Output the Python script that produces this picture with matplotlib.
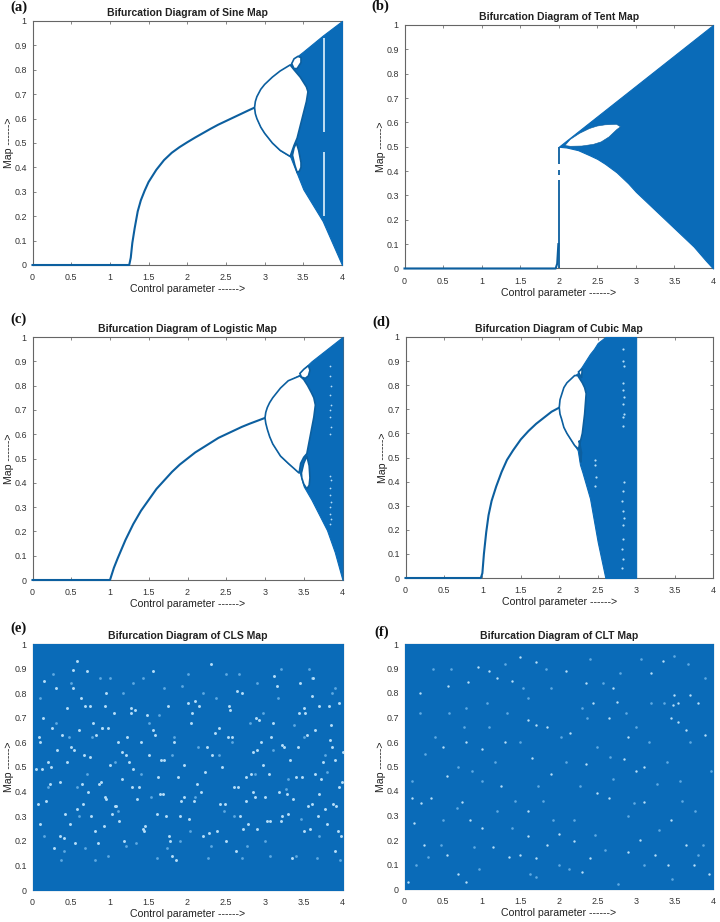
#!/usr/bin/env python3
"""Six bifurcation diagrams, values read off the published figure."""
import matplotlib
matplotlib.use("Agg")
import matplotlib.pyplot as plt

W, H = 720, 922
BLUE = "#0a6bb8"
LINE = "#0c5f9f"
SPECK = "#b5def8"
FAINT = "#5ea9e2"

XTICKS = [0, 0.5, 1, 1.5, 2, 2.5, 3, 3.5, 4]
YTICKS = [0, 0.1, 0.2, 0.3, 0.4, 0.5, 0.6, 0.7, 0.8, 0.9, 1]
XLABEL = "Control parameter ------>"
YLABEL = "Map ------>"

# ---------- (a) sine ----------
a_stable_x = [0, 1.25, 1.27, 1.29, 1.32, 1.36, 1.4, 1.45, 1.5, 1.6, 1.7, 1.8, 1.9, 2, 2.1, 2.2, 2.3, 2.4, 2.5, 2.6,
              2.7, 2.8, 2.87]
a_stable_y = [0, 0, 0.03, 0.09, 0.15, 0.22, 0.265, 0.305, 0.34, 0.39, 0.43, 0.46, 0.483, 0.503, 0.522, 0.54, 0.558,
              0.575, 0.59, 0.605, 0.62, 0.635, 0.645]
a_env_x = [2.87, 2.88, 2.9, 2.95, 3, 3.05, 3.1, 3.2, 3.33, 3.38, 3.5, 3.75, 4]
a_env_top = [0.645, 0.67, 0.69, 0.72, 0.74, 0.755, 0.77, 0.795, 0.82, 0.845, 0.875, 0.94, 1]
a_env_bot = [0.645, 0.62, 0.6, 0.565, 0.54, 0.52, 0.5, 0.47, 0.445, 0.405, 0.31, 0.18, 0]
a_holes = [
    ([2.87, 2.88, 2.9, 2.95, 3, 3.05, 3.1, 3.2, 3.33, 3.38, 3.42, 3.46, 3.5, 3.54, 3.56, 3.54, 3.5, 3.46, 3.42, 3.38,
      3.33, 3.2, 3.1, 3.05, 3, 2.95, 2.9, 2.88],
     [0.645, 0.67, 0.69, 0.72, 0.74, 0.755, 0.77, 0.795, 0.82, 0.80, 0.785, 0.77, 0.75, 0.73, 0.71, 0.67, 0.62, 0.57,
      0.52, 0.49, 0.445, 0.47, 0.5, 0.52, 0.54, 0.565, 0.6, 0.62]),
    ([3.36, 3.38, 3.41, 3.44, 3.47, 3.47, 3.45, 3.42, 3.39, 3.36],
     [0.45, 0.48, 0.50, 0.47, 0.42, 0.40, 0.385, 0.38, 0.41, 0.45]),
    ([3.35, 3.38, 3.43, 3.47, 3.47, 3.42, 3.38, 3.35],
     [0.825, 0.845, 0.855, 0.85, 0.83, 0.805, 0.805, 0.825]),
]
a_stripe_x = [3.77, 3.77]
a_stripe_top = [0.93, 0.465]
a_stripe_bot = [0.545, 0.2]

# ---------- (b) tent ----------
b_zero_x = [0, 1.96, 1.98, 1.995]
b_zero_y = [0, 0, 0.02, 0.1]
b_rise_x = [2, 2, 2]
b_rise_bot = [0, 0.385, 0.43]
b_rise_top = [0.363, 0.405, 0.5]
b_env_x = [2, 2.1, 2.25, 2.4, 2.5, 2.6, 2.75, 2.9, 3, 3.1, 3.25, 3.4, 3.5, 3.6, 3.75, 3.9, 4]
b_env_top = [0.5, 0.525, 0.5625, 0.6, 0.625, 0.65, 0.6875, 0.725, 0.75, 0.775, 0.8125, 0.85, 0.875, 0.9, 0.9375,
             0.975, 1]
b_env_bot = [0.5, 0.497, 0.486, 0.465, 0.45, 0.43, 0.395, 0.35, 0.315, 0.285, 0.24, 0.195, 0.165, 0.135, 0.09, 0.035, 0]
b_holes = [
    ([2.08, 2.15, 2.27, 2.4, 2.5, 2.6, 2.75, 2.8, 2.75, 2.65, 2.55, 2.45, 2.3, 2.15, 2.08],
     [0.505, 0.53, 0.555, 0.575, 0.585, 0.59, 0.592, 0.582, 0.57, 0.54, 0.52, 0.51, 0.503, 0.502, 0.505]),
]

# ---------- (c) logistic ----------
c_stable_x = [0, 1, 1.05, 1.1, 1.2, 1.3, 1.4, 1.5, 1.6, 1.7, 1.8, 1.9, 2, 2.1, 2.2, 2.3, 2.4, 2.5, 2.6, 2.7, 2.8, 2.9, 3]
c_stable_y = [0, 0, 0.05, 0.09, 0.165, 0.23, 0.285, 0.33, 0.375, 0.41, 0.445, 0.475, 0.5, 0.525, 0.545, 0.565, 0.585,
              0.6, 0.615, 0.63, 0.643, 0.655, 0.667]
c_env_x = [3, 3.01, 3.03, 3.06, 3.1, 3.15, 3.2, 3.3, 3.45, 3.5, 3.6, 3.8, 3.9, 4]
c_env_top = [0.667, 0.69, 0.71, 0.73, 0.75, 0.77, 0.79, 0.82, 0.845, 0.87, 0.9, 0.95, 0.975, 1]
c_env_bot = [0.667, 0.645, 0.62, 0.59, 0.56, 0.535, 0.51, 0.48, 0.44, 0.385, 0.33, 0.205, 0.115, 0]
c_holes = [
    ([3, 3.01, 3.03, 3.06, 3.1, 3.15, 3.2, 3.3, 3.45, 3.5, 3.55, 3.6, 3.63, 3.65, 3.63, 3.6, 3.57, 3.54, 3.5, 3.46,
      3.44, 3.3, 3.2, 3.15, 3.1, 3.06, 3.03, 3.01],
     [0.667, 0.69, 0.71, 0.73, 0.75, 0.77, 0.79, 0.82, 0.84, 0.825, 0.8, 0.77, 0.75, 0.72, 0.67, 0.62, 0.57, 0.52,
      0.505, 0.48, 0.44, 0.48, 0.51, 0.535, 0.56, 0.59, 0.62, 0.645]),
    ([3.47, 3.5, 3.54, 3.57, 3.58, 3.57, 3.54, 3.5, 3.475, 3.47],
     [0.44, 0.48, 0.51, 0.47, 0.42, 0.39, 0.375, 0.395, 0.42, 0.44]),
    ([3.45, 3.5, 3.56, 3.58, 3.56, 3.52, 3.47, 3.45],
     [0.85, 0.867, 0.882, 0.863, 0.84, 0.83, 0.835, 0.85]),
]
c_specks_x = [3.84, 3.84, 3.85, 3.84, 3.85, 3.84, 3.84, 3.85, 3.84, 3.84, 3.85, 3.84, 3.84, 3.85, 3.84, 3.84, 3.85, 3.84]
c_specks_y = [0.88, 0.84, 0.8, 0.76, 0.72, 0.7, 0.67, 0.63, 0.6, 0.43, 0.41, 0.38, 0.35, 0.32, 0.3, 0.27, 0.25, 0.23]

# ---------- (d) cubic ----------
d_stable_x = [0, 0.98, 1.0, 1.02, 1.05, 1.08, 1.12, 1.18, 1.25, 1.32, 1.4, 1.5, 1.6, 1.7, 1.8, 1.9, 2]
d_stable_y = [0, 0, 0.02, 0.1, 0.19, 0.26, 0.32, 0.38, 0.44, 0.49, 0.53, 0.575, 0.61, 0.64, 0.665, 0.69, 0.707]
d_env_x = [2, 2.01, 2.03, 2.06, 2.1, 2.15, 2.2, 2.24, 2.27, 2.3, 2.4, 2.45, 2.5, 2.6, 3]
d_env_top = [0.707, 0.74, 0.76, 0.79, 0.81, 0.825, 0.84, 0.85, 0.865, 0.88, 0.93, 0.95, 0.975, 1, 1]
d_env_bot = [0.707, 0.68, 0.66, 0.625, 0.6, 0.575, 0.55, 0.53, 0.47, 0.44, 0.33, 0.24, 0.15, 0, 0]
d_holes = [
    ([2, 2.01, 2.03, 2.06, 2.1, 2.15, 2.2, 2.24, 2.3, 2.33, 2.35, 2.33, 2.3, 2.27, 2.25, 2.2, 2.15, 2.1, 2.06, 2.03, 2.01],
     [0.707, 0.74, 0.76, 0.79, 0.81, 0.825, 0.84, 0.84, 0.81, 0.79, 0.765, 0.68, 0.6, 0.56, 0.535, 0.55, 0.575, 0.6,
      0.625, 0.66, 0.68]),
    ([2.26, 2.29, 2.28, 2.26], [0.57, 0.52, 0.48, 0.57]),
    ([2.25, 2.3, 2.29, 2.25], [0.855, 0.87, 0.83, 0.855]),
]
d_specks_x = [2.83, 2.83, 2.84, 2.83, 2.83, 2.84, 2.83, 2.84, 2.83, 2.83, 2.84, 2.83, 2.82, 2.83, 2.84, 2.83, 2.83, 2.82,
              2.83, 2.82, 2.47, 2.47, 2.48, 2.47]
d_specks_y = [0.95, 0.9, 0.88, 0.81, 0.78, 0.75, 0.72, 0.68, 0.67, 0.63, 0.4, 0.36, 0.32, 0.28, 0.25, 0.22, 0.16, 0.12,
              0.08, 0.04, 0.49, 0.47, 0.42, 0.38]

# ---------- (e) CLS ----------
e_specks_x = [0.3, 0.52, 0.58, 0.7, 0.68, 0.74, 0.93, 0.95, 1.27, 1.27, 1.32, 0.08, 0.1, 0.12, 0.05, 0.32, 0.5, 0.54,
              0.74, 0.93, 0.95, 1.1, 1.15, 1.65, 1.68, 1.62, 1.88, 2.15, 2.53, 2.55, 2.6, 2.65, 2.75, 2.85, 2.87, 3.0,
              2.85, 2.9, 3.5, 3.52, 3.7, 3.82, 3.65, 3.7, 3.6, 3.55, 3.2, 3.3, 3.22, 0.4, 0.55, 0.85, 0.92, 1.8, 1.85,
              2.5, 2.9, 3.35, 3.9, 3.98, 4.0, 3.9, 3.95, 3.99, 2.3, 2.0, 0.15, 0.25, 0.45, 0.6, 0.78, 1.05, 1.2, 1.4,
              1.55, 1.75, 2.05, 2.25, 2.4, 2.7, 3.1, 3.25, 3.45, 3.6, 3.85, 0.2, 0.35, 0.62, 0.82, 1.0, 1.22, 1.38,
              1.5, 1.72, 1.95, 2.1, 2.35, 2.45, 2.68, 3.05, 3.15, 3.4, 3.75, 3.88, 0.18, 0.42, 0.65, 0.88, 1.08, 1.3,
              1.45, 1.6, 1.9, 2.2, 2.42, 2.78, 2.95, 3.12, 3.42, 3.58, 3.8, 0.1, 0.28, 0.48, 0.72, 1.02, 1.18, 1.42,
              1.78, 2.08, 2.28, 2.62, 2.82, 3.08, 3.28, 3.48, 3.68, 3.92,
              0.13, 0.22, 0.38, 0.44, 0.57, 0.66, 0.76, 0.86, 0.98, 1.12, 1.25, 1.35, 1.48, 1.58, 1.7, 1.82, 1.92, 2.02,
              2.12, 2.22, 2.32, 2.48, 2.58, 2.72, 2.88, 2.98, 3.02, 3.18, 3.32, 3.44, 3.54, 3.64, 3.78, 3.86, 3.96,
              0.07, 0.24, 0.36, 0.52, 0.64, 0.8, 0.9, 1.06, 1.16, 1.28, 1.44, 1.56, 1.66, 1.76, 1.96, 2.06, 2.18, 2.38,
              2.52, 2.64, 2.76, 2.92, 3.06, 3.22, 3.36, 3.5, 3.62, 3.72, 3.84, 3.94]
e_specks_y = [0.82, 0.895, 0.93, 0.89, 0.75, 0.75, 0.75, 0.8, 0.74, 0.72, 0.73, 0.62, 0.6, 0.49, 0.49, 0.57, 0.58, 0.57,
              0.54, 0.38, 0.37, 0.6, 0.45, 0.39, 0.39, 0.46, 0.46, 0.75, 0.75, 0.73, 0.42, 0.42, 0.36, 0.4, 0.38, 0.38,
              0.56, 0.57, 0.74, 0.72, 0.75, 0.75, 0.65, 0.39, 0.35, 0.34, 0.28, 0.31, 0.3, 0.21, 0.19, 0.19, 0.26, 0.14,
              0.12, 0.2, 0.25, 0.13, 0.16, 0.22, 0.56, 0.53, 0.42, 0.44, 0.92, 0.76, 0.85, 0.66, 0.74, 0.65, 0.68, 0.72,
              0.55, 0.6, 0.89, 0.75, 0.68, 0.58, 0.66, 0.8, 0.68, 0.58, 0.84, 0.79, 0.67, 0.52, 0.44, 0.78, 0.63, 0.51,
              0.62, 0.42, 0.55, 0.3, 0.51, 0.77, 0.64, 0.5, 0.3, 0.47, 0.83, 0.46, 0.52, 0.35, 0.36, 0.31, 0.35, 0.44,
              0.34, 0.49, 0.26, 0.31, 0.3, 0.22, 0.35, 0.27, 0.6, 0.87, 0.58, 0.25, 0.27, 0.27, 0.17, 0.27, 0.4, 0.31,
              0.2, 0.25, 0.2, 0.36, 0.23, 0.16, 0.47, 0.62, 0.39, 0.46, 0.3, 0.34,
              0.7, 0.43, 0.63, 0.52, 0.33, 0.55, 0.3, 0.43, 0.66, 0.28, 0.52, 0.37, 0.71, 0.63, 0.53, 0.6, 0.36, 0.29,
              0.43, 0.48, 0.55, 0.35, 0.62, 0.25, 0.7, 0.51, 0.28, 0.4, 0.53, 0.72, 0.63, 0.47, 0.33, 0.58, 0.76,
              0.35, 0.5, 0.22, 0.82, 0.43, 0.24, 0.66, 0.34, 0.56, 0.42, 0.24, 0.65, 0.53, 0.22, 0.38, 0.72, 0.4, 0.24,
              0.62, 0.81, 0.46, 0.69, 0.28, 0.59, 0.37, 0.24, 0.86, 0.45, 0.61, 0.24]
e_faint_x = [0.1, 0.2, 0.3, 0.4, 0.5, 0.6, 0.7, 0.8, 0.9, 1.0, 1.1, 1.2, 1.3, 1.4, 1.5, 1.6, 1.7, 1.8, 1.9, 2.0, 2.1,
             2.2, 2.3, 2.4, 2.5, 2.6, 2.7, 2.8, 2.9, 3.0, 3.1, 3.2, 3.3, 3.4, 3.5, 3.6, 3.7, 3.8, 3.9,
             0.15, 0.27, 0.37, 0.47, 0.58, 0.68, 0.77, 0.87, 0.97, 1.07, 1.17, 1.33, 1.43, 1.53, 1.63, 1.73, 1.83,
             1.93, 2.03, 2.13, 2.27, 2.37, 2.47, 2.57, 2.67, 2.77, 2.87, 2.97, 3.07, 3.17, 3.27, 3.37, 3.47, 3.57,
             3.67, 3.77, 3.87, 3.97]
e_faint_y = [0.78, 0.42, 0.68, 0.16, 0.84, 0.3, 0.47, 0.12, 0.66, 0.86, 0.32, 0.18, 0.84, 0.47, 0.68, 0.13, 0.82, 0.55,
             0.2, 0.88, 0.38, 0.8, 0.18, 0.55, 0.88, 0.3, 0.13, 0.68, 0.84, 0.2, 0.57, 0.9, 0.45, 0.14, 0.62, 0.86,
             0.22, 0.48, 0.82, 0.22, 0.88, 0.12, 0.62, 0.42, 0.17, 0.62, 0.86, 0.14, 0.52, 0.8, 0.19, 0.86, 0.38, 0.71,
             0.17, 0.62, 0.83, 0.24, 0.58, 0.13, 0.78, 0.32, 0.6, 0.88, 0.18, 0.47, 0.72, 0.14, 0.78, 0.41, 0.67, 0.29,
             0.9, 0.13, 0.55, 0.8, 0.12]

# ---------- (f) CLT ----------
f_specks_x = [0.82, 0.57, 0.95, 1.5, 1.7, 1.4, 2.7, 2.75, 3.55, 3.48, 3.8, 3.7, 1.3, 1.0, 0.8, 2.9, 1.65, 2.35, 0.75, 1.6,
              3.45, 3.1, 2.65, 1.5, 1.7, 2.4, 2.3, 0.7, 0.8, 2.0, 2.2, 1.6, 3.65, 0.2, 0.5, 0.55, 0.35, 0.12, 0.05, 3.1,
              3.0, 2.85, 3.65, 3.55, 3.45, 3.9, 2.65, 1.7, 1.6, 1.85, 2.15, 1.25, 1.15, 0.55, 2.9, 3.25, 3.42, 3.75,
              3.95, 1.85, 2.5, 1.35, 1.0, 0.85, 0.1, 0.22, 1.9, 3.05, 3.2, 3.35, 3.5, 2.45, 2.35, 2.1, 1.2, 1.1, 0.25]
f_specks_y = [0.845, 0.83, 0.905, 0.945, 0.925, 0.85, 0.82, 0.765, 0.76, 0.75, 0.76, 0.79, 0.6, 0.57, 0.6, 0.62, 0.535,
              0.51, 0.355, 0.32, 0.28, 0.355, 0.37, 0.14, 0.125, 0.125, 0.07, 0.06, 0.03, 0.225, 0.195, 0.215, 0.18, 0.8,
              0.58, 0.46, 0.37, 0.27, 0.03, 0.5, 0.48, 0.53, 0.65, 0.68, 0.7, 0.63, 0.7, 0.67, 0.69, 0.66, 0.635, 0.42,
              0.17, 0.14, 0.15, 0.14, 0.1, 0.1, 0.06, 0.18, 0.39, 0.13, 0.25, 0.28, 0.37, 0.35, 0.47, 0.2, 0.88, 0.93,
              0.79, 0.76, 0.84, 0.89, 0.86, 0.89, 0.18]
f_faint_x = [0.1, 0.2, 0.3, 0.4, 0.5, 0.6, 0.7, 0.8, 0.9, 1.0, 1.1, 1.2, 1.3, 1.4, 1.5, 1.6, 1.7, 1.8, 1.9, 2.0, 2.1,
             2.2, 2.3, 2.4, 2.5, 2.6, 2.7, 2.8, 2.9, 3.0, 3.1, 3.2, 3.3, 3.4, 3.5, 3.6, 3.7, 3.8, 3.9,
             0.15, 0.27, 0.37, 0.47, 0.58, 0.68, 0.77, 0.87, 0.97, 1.07, 1.17, 1.33, 1.43, 1.53, 1.63, 1.73, 1.83,
             1.93, 2.03, 2.13, 2.27, 2.37, 2.47, 2.57, 2.67, 2.77, 2.87, 2.97, 3.07, 3.17, 3.27, 3.37, 3.47, 3.57,
             3.67, 3.77, 3.87, 3.97]
f_faint_y = [0.44, 0.72, 0.13, 0.62, 0.28, 0.9, 0.5, 0.74, 0.17, 0.44, 0.66, 0.32, 0.92, 0.25, 0.6, 0.78, 0.05, 0.36,
             0.82, 0.1, 0.52, 0.28, 0.74, 0.94, 0.58, 0.16, 0.45, 0.88, 0.3, 0.66, 0.1, 0.76, 0.24, 0.52, 0.95, 0.36,
             0.6, 0.14, 0.86, 0.1, 0.55, 0.9, 0.18, 0.72, 0.33, 0.66, 0.48, 0.08, 0.76, 0.52, 0.72, 0.36, 0.82, 0.06,
             0.42, 0.9, 0.28, 0.62, 0.08, 0.42, 0.7, 0.22, 0.84, 0.54, 0.02, 0.72, 0.35, 0.94, 0.6, 0.43, 0.76, 0.04,
             0.44, 0.92, 0.32, 0.18, 0.48]

TITLES = ["Sine", "Tent", "Logistic", "Cubic", "CLS", "CLT"]
LETTERS = ["(a)", "(b)", "(c)", "(d)", "(e)", "(f)"]
# left, right, top, bottom of each plot box in pixels
BOXES = [(32.5, 342, 21, 265), (404.5, 713, 25, 268.5),
         (32.5, 342.5, 337, 580), (405.5, 713, 337, 578),
         (32.5, 342.5, 644, 890), (404.5, 713, 644, 889)]
LETTER_XY = [(10, 7), (371, 6), (10, 319), (372, 322), (10, 628), (374, 632)]

plt.rcParams["font.family"] = ["Liberation Sans", "DejaVu Sans"]
fig = plt.figure(figsize=(W / 100, H / 100), dpi=100)


def make_axes(i):
    l, r, t, b = BOXES[i]
    ax = fig.add_axes([l / W, 1 - b / H, (r - l) / W, (b - t) / H])
    ax.set_xlim(0, 4)
    ax.set_ylim(0, 1)
    ax.set_xticks(XTICKS, [f"{v:g}" for v in XTICKS])
    ax.set_yticks(YTICKS, [f"{v:g}" for v in YTICKS])
    ax.tick_params(direction="in", length=2, width=0.5, labelsize=6.4, color="#555555",
                   labelcolor="#333333", top=True, right=True)
    ax.tick_params(axis="x", pad=6)
    ax.tick_params(axis="y", pad=4.2)
    for s in ax.spines.values():
        s.set_linewidth(0.8)
        s.set_color("#666666")
    ax.set_xlabel(XLABEL, fontsize=7.6, color="#222222", va="center")
    ax.set_ylabel(YLABEL, fontsize=7.6, color="#222222", va="center")
    ax.xaxis.set_label_coords(0.5, -24 / (b - t))
    ax.yaxis.set_label_coords(-23 / (r - l), 0.5)
    ax.set_title(f"Bifurcation Diagram of {TITLES[i]} Map", fontsize=7.5, fontweight="bold", pad=3.8, color="#222222")
    fig.text(LETTER_XY[i][0] / W, 1 - LETTER_XY[i][1] / H, LETTERS[i], family="Liberation Serif", fontweight="bold",
             fontsize=10.5, va="center", color="#111111")
    return ax


def draw_envelope(ax, x, top, bot, holes, edge=1.2):
    ax.fill_between(x, top, bot, color=BLUE, lw=0.8, clip_on=False, zorder=3)
    for hx, hy in holes:
        ax.fill(hx, hy, facecolor="white", edgecolor=LINE, lw=edge, zorder=3.1)


def draw_specks(ax, x, y, size=4.5, colour=SPECK):
    ax.scatter(x, y, s=size, c=colour, linewidths=0, zorder=4)


ax = make_axes(0)
ax.plot(a_stable_x, a_stable_y, color=LINE, lw=1.5, zorder=3, clip_on=False)
draw_envelope(ax, a_env_x, a_env_top, a_env_bot, a_holes)
ax.vlines(a_stripe_x, a_stripe_bot, a_stripe_top, color="#dff1fc", lw=1.2, zorder=4)

ax = make_axes(1)
ax.plot(b_zero_x, b_zero_y, color=LINE, lw=1.5, zorder=3, clip_on=False)
ax.vlines(b_rise_x, b_rise_bot, b_rise_top, color=LINE, lw=1.3, zorder=3)
draw_envelope(ax, b_env_x, b_env_top, b_env_bot, b_holes, edge=0.4)

ax = make_axes(2)
ax.plot(c_stable_x, c_stable_y, color=LINE, lw=1.5, zorder=3, clip_on=False)
draw_envelope(ax, c_env_x, c_env_top, c_env_bot, c_holes)
draw_specks(ax, c_specks_x, c_specks_y, 1.6)

ax = make_axes(3)
ax.plot(d_stable_x, d_stable_y, color=LINE, lw=1.5, zorder=3, clip_on=False)
draw_envelope(ax, d_env_x, d_env_top, d_env_bot, d_holes)
draw_specks(ax, d_specks_x, d_specks_y, 2.5)

ax = make_axes(4)
ax.fill_between([0, 4], [1, 1], [0, 0], color=BLUE, lw=0.8, zorder=3, clip_on=False)
draw_specks(ax, e_faint_x, e_faint_y, 4, FAINT)
draw_specks(ax, e_specks_x, e_specks_y, 4.5)

ax = make_axes(5)
ax.fill_between([0, 4], [1, 1], [0, 0], color=BLUE, lw=0.8, zorder=3, clip_on=False)
draw_specks(ax, f_faint_x, f_faint_y, 3.5, FAINT)
draw_specks(ax, f_specks_x, f_specks_y, 3)

fig.savefig("out.png", dpi=100)
plt.close(fig)
